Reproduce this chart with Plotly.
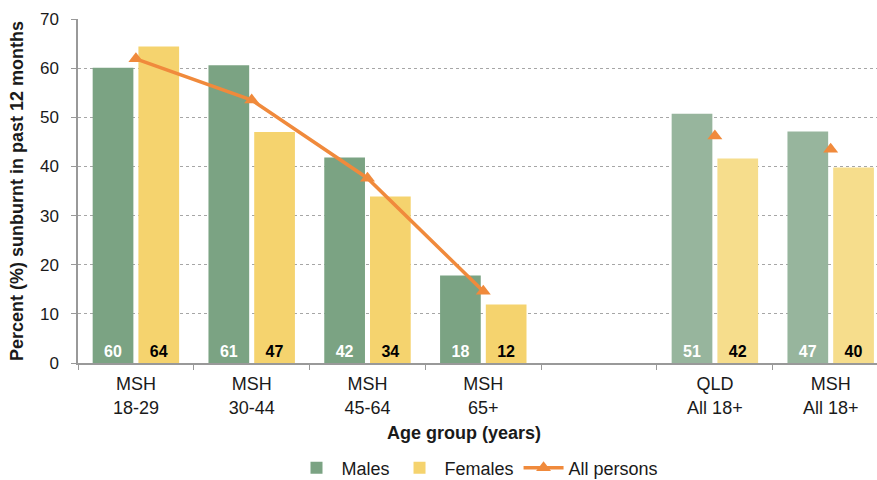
import plotly.graph_objects as go

# Age groups (a blank slot separates the age bands from the "All 18+" summaries)
categories = ["MSH<br>18-29", "MSH<br>30-44", "MSH<br>45-64", "MSH<br>65+", " ",
              "QLD<br>All 18+", "MSH<br>All 18+"]
males = [60.1, 60.6, 41.8, 17.8, None, 50.7, 47.1]
females = [64.4, 47.0, 33.9, 11.9, None, 41.6, 39.8]
all_persons_age = [61.9, 53.5, 37.6, 14.6]
all_persons_total = [46.2, 43.5]

male_colors = ["#7BA383"] * 5 + ["#97B59D"] * 2
female_colors = ["#F5D36E"] * 5 + ["#F6DD8C"] * 2
orange = "#F08A3C"
font_family = "Liberation Sans, Arial, sans-serif"

fig = go.Figure()
fig.add_trace(go.Bar(
    name="Males", x=categories, y=males,
    marker=dict(color=male_colors, line=dict(width=0)),
    texttemplate="<b>%{y:.0f}</b>", textposition="inside", insidetextanchor="start",
    textfont=dict(color="white", size=16, family=font_family), textangle=0,
))
fig.add_trace(go.Bar(
    name="Females", x=categories, y=females,
    marker=dict(color=female_colors, line=dict(width=0)),
    texttemplate="<b>%{y:.0f}</b>", textposition="inside", insidetextanchor="start",
    textfont=dict(color="black", size=16, family=font_family), textangle=0,
))
fig.add_trace(go.Scatter(
    name="All persons", x=categories[:4], y=all_persons_age, mode="lines+markers",
    line=dict(color=orange, width=3.5),
    marker=dict(symbol="triangle-up", size=13, color=orange),
))
fig.add_trace(go.Scatter(
    name="All persons", x=categories[5:], y=all_persons_total, mode="markers",
    marker=dict(symbol="triangle-up", size=13, color=orange), showlegend=False,
))

fig.update_layout(
    width=877, height=480,
    margin=dict(l=78, r=0, t=19, b=117, autoexpand=False),
    plot_bgcolor="white", paper_bgcolor="white",
    barmode="group", bargap=0.21, bargroupgap=0.11,
    font=dict(family=font_family, size=18, color="#1a1a1a"),
    showlegend=True,
    legend=dict(orientation="h", x=0.5, xanchor="center",
                yref="container", y=(480 - 468) / 480, yanchor="middle",
                font=dict(size=18), itemwidth=40, tracegroupgap=0),
    xaxis=dict(
        type="category", range=[-0.5, 6.4], tickson="boundaries",
        ticks="outside", ticklen=5, tickcolor="#999999", ticklabelstandoff=4,
        showline=True, linecolor="#999999", linewidth=1.5, automargin=False,
        showgrid=False, tickfont=dict(size=18),
    ),
    yaxis=dict(
        range=[0, 70], dtick=10, showline=True, linecolor="#999999", linewidth=1.5,
        ticks="outside", ticklen=5, tickcolor="#999999", ticklabelstandoff=9,
        showgrid=True, gridcolor="#a6a6a6", griddash="dot", gridwidth=1,
        tickfont=dict(size=17), zeroline=False, automargin=False,
    ),
    annotations=[
        dict(text="<b>Percent (%) sunburnt in past 12 months</b>", textangle=-90,
             xref="paper", yref="paper", x=0, y=0.5, xshift=-61, showarrow=False,
             xanchor="center", yanchor="middle", font=dict(size=18)),
        dict(text="<b>Age group (years)</b>", xref="paper", yref="paper",
             x=0.4837, y=0, yshift=-70, showarrow=False,
             xanchor="center", yanchor="middle", font=dict(size=18)),
    ],
)

fig.write_html("out.html")
